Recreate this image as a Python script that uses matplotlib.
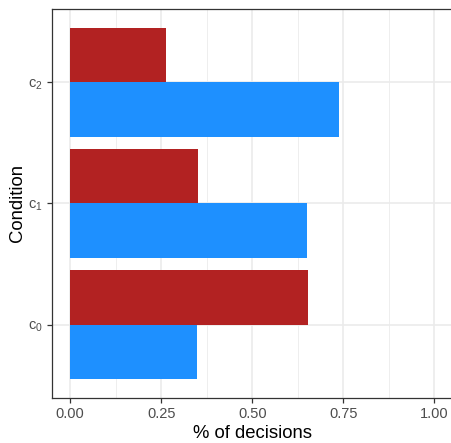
import matplotlib.pyplot as plt
import numpy as np

conditions = ["c$_{0}$", "c$_{1}$", "c$_{2}$"]
share_red = [0.654, 0.351, 0.263]
share_blue = [0.347, 0.649, 0.738]
x_ticks = [0.0, 0.25, 0.5, 0.75, 1.0]
x_tick_labels = ["0.00", "0.25", "0.50", "0.75", "1.00"]

plt.rcParams["font.family"] = ["Liberation Sans", "DejaVu Sans"]
plt.rcParams["mathtext.fontset"] = "custom"
plt.rcParams["mathtext.rm"] = "Liberation Sans"
plt.rcParams["mathtext.default"] = "regular"

fig = plt.figure(figsize=(4.51, 4.43), dpi=100)
ax = fig.add_axes([0.1149, 0.1023, 0.8889, 0.8767])

pos = np.arange(1, len(conditions) + 1)
h = 0.45
ax.barh(pos + h / 2, share_red, height=h, color="#B22222", zorder=3)
ax.barh(pos - h / 2, share_blue, height=h, color="#1E90FF", zorder=3)

ax.set_xlim(-0.05, 1.05)
ax.set_ylim(0.4, 3.6)

# grid like theme_bw
for x in np.arange(0.125, 1.0, 0.25):
    ax.axvline(x, color="#EBEBEB", lw=0.6, zorder=0)
for x in x_ticks:
    ax.axvline(x, color="#EBEBEB", lw=1.2, zorder=0)
for y in pos:
    ax.axhline(y, color="#EBEBEB", lw=1.2, zorder=0)

ax.set_xticks(x_ticks)
ax.set_xticklabels(x_tick_labels)
ax.set_yticks(pos)
ax.set_yticklabels(conditions)
ax.tick_params(colors="#333333", labelcolor="#4D4D4D", labelsize=10.5,
               length=3.5, width=0.9, pad=3)

for s in ax.spines.values():
    s.set_color("#333333")
    s.set_linewidth(0.9)

ax.set_xlabel("% of decisions", fontsize=13.3, labelpad=3)
ax.set_ylabel("Condition", fontsize=13.3, labelpad=1.5)

fig.savefig("out.png", dpi=100)
